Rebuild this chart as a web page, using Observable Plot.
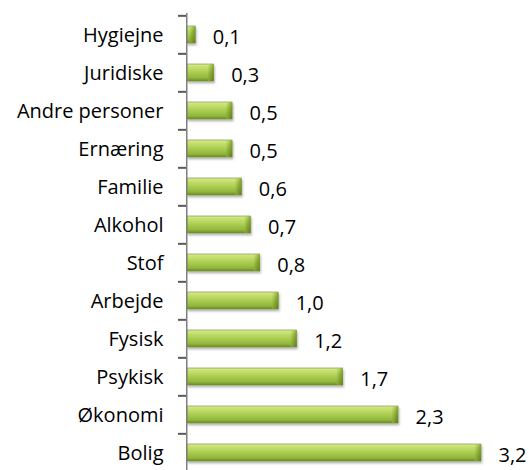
<!DOCTYPE html>
<html>
<head>
<meta charset="utf-8">
<script src="https://cdn.jsdelivr.net/npm/d3@7"></script>
<script src="https://cdn.jsdelivr.net/npm/@observablehq/plot@0.6"></script>
<style>
  html, body { margin: 0; padding: 0; background: #fff; }
  svg { display: block; }
</style>
</head>
<body>
<div id="chart"></div>
<script>
const categories = ["Hygiejne", "Juridiske", "Andre personer", "Ernæring", "Familie", "Alkohol", "Stof", "Arbejde", "Fysisk", "Psykisk", "Økonomi", "Bolig"];
const values = [0.1, 0.3, 0.5, 0.5, 0.6, 0.7, 0.8, 1.0, 1.2, 1.7, 2.3, 3.2];

const data = categories.map((c, i) => ({category: c, value: values[i]}));
const fmt = v => v.toFixed(1).replace(".", ",");

const yTop = 13, yBottom = 473;
const halfBand = (yBottom - yTop) / categories.length / 2;
const font = "'Open Sans', sans-serif";
const axisColor = "#5a5a5a";

const svg = Plot.plot({
  width: 529,
  height: 470,
  marginLeft: 186,
  marginRight: 0,
  marginTop: 13,
  marginBottom: 0,
  style: {fontFamily: font, fontSize: "20px", color: "#000", background: "#fff"},
  x: {domain: [0, 3.2], range: [186, 481], axis: null},
  y: {domain: categories, range: [yTop, yBottom], paddingInner: 0.56, paddingOuter: 0.28, align: 0.5, label: null},
  marks: [
    Plot.axisY({tickSize: 0, tickPadding: 23, fontSize: 20, fill: "#000", dy: 1}),
    Plot.axisY({tickSize: 8, text: null, dy: -halfBand, stroke: axisColor, strokeWidth: 2}),
    Plot.barX(data, {y: "category", x1: 0, x2: "value", insetLeft: 1, fill: "url(#barGrad)", stroke: "#6e8c2c", strokeWidth: 0.6}),
    Plot.barX(data, {y: "category", x1: "value", x2: "value", insetLeft: -6, fill: "url(#endGrad)"}),
    Plot.text(data, {y: "category", x: "value", text: d => fmt(d.value), textAnchor: "start", dx: 17, dy: 3, fontSize: 20, fill: "#000"}),
    Plot.ruleX([0], {stroke: "#7f7f7f", strokeWidth: 1.5, dx: 0.25})
  ]
});

const ns = "http://www.w3.org/2000/svg";
const defs = document.createElementNS(ns, "defs");
defs.innerHTML = `
<linearGradient id="barGrad" x1="0" y1="0" x2="0" y2="1">
  <stop offset="0" stop-color="#d8ec93"/>
  <stop offset="0.18" stop-color="#c6e070"/>
  <stop offset="0.5" stop-color="#aacd50"/>
  <stop offset="0.8" stop-color="#93b83e"/>
  <stop offset="1" stop-color="#6c8c28"/>
</linearGradient>
<linearGradient id="endGrad" x1="0" y1="0" x2="1" y2="1">
  <stop offset="0" stop-color="#b7d45e" stop-opacity="0.2"/>
  <stop offset="0.5" stop-color="#8aab36"/>
  <stop offset="1" stop-color="#5f7d20"/>
</linearGradient>
<filter id="shadow" x="-5%" y="-30%" width="110%" height="190%">
  <feDropShadow dx="1" dy="2" stdDeviation="1.2" flood-color="#000" flood-opacity="0.3"/>
</filter>`;
svg.insertBefore(defs, svg.firstChild);
const barGroups = svg.querySelectorAll("g[aria-label='bar']");
if (barGroups[0]) barGroups[0].setAttribute("filter", "url(#shadow)");

document.getElementById("chart").appendChild(svg);
</script>
</body>
</html>
